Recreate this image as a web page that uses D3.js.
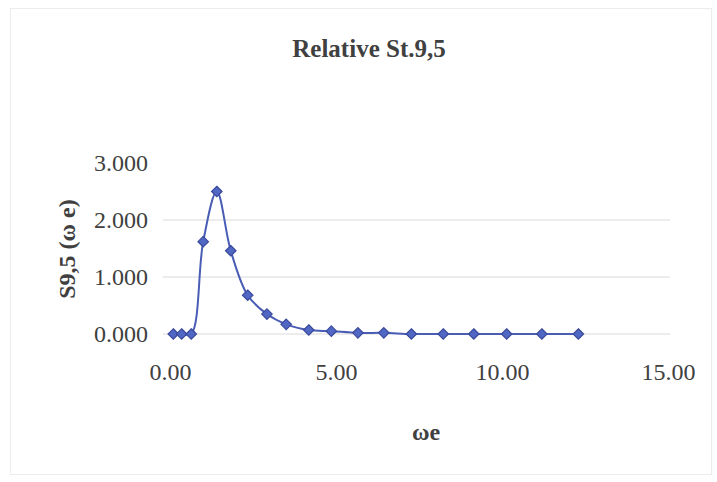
<!DOCTYPE html>
<html>
<head>
<meta charset="utf-8">
<script src="https://cdn.jsdelivr.net/npm/d3@7/dist/d3.min.js"></script>
<style>
  html, body { margin: 0; padding: 0; background: #ffffff; }
  svg { display: block; }
  text { font-family: "Liberation Serif", "Times New Roman", serif; fill: #404040; }
</style>
</head>
<body>
<svg id="chart" width="717" height="482"></svg>
<script>
// Relative spectrum S9,5 against encounter frequency ωe
const omegaE = [0.10, 0.35, 0.64, 1.00, 1.41, 1.83, 2.34, 2.92, 3.50, 4.18, 4.86, 5.66, 6.44, 7.27, 8.23, 9.15, 10.14, 11.20, 12.30];
const s95    = [0.00, 0.00, 0.00, 1.62, 2.50, 1.46, 0.68, 0.35, 0.17, 0.07, 0.05, 0.02, 0.02, 0.00, 0.00, 0.00, 0.00, 0.00, 0.00];

const xTicks = [0, 5, 10, 15];
const yTicks = [0, 1, 2, 3];
const gridValues = [0, 1, 2];

const titleText = "Relative St.9,5";
const xTitle = "ωe";
const yTitle = "S9,5 (ω e)";

const svg = d3.select("#chart");
const W = 717, H = 482;

// outer chart frame
svg.append("rect")
  .attr("x", 10.5).attr("y", 8.5)
  .attr("width", 701).attr("height", 466)
  .attr("fill", "#ffffff")
  .attr("stroke", "#ececec").attr("stroke-width", 1);

const plot = { left: 170, right: 668, top: 163, bottom: 334 };

const x = d3.scaleLinear().domain([0, 15]).range([plot.left, plot.right]);
const y = d3.scaleLinear().domain([0, 3]).range([plot.bottom, plot.top]);

// horizontal gridlines
svg.append("g")
  .selectAll("line")
  .data(gridValues)
  .join("line")
  .attr("x1", plot.left - 7).attr("x2", plot.right + 2)
  .attr("y1", d => y(d)).attr("y2", d => y(d))
  .attr("stroke", "#e6e6e6").attr("stroke-width", 1.5);

// y axis tick labels
const yAxis = d3.axisLeft(y).tickValues(yTicks).tickFormat(d3.format(".3f")).tickSize(0).tickPadding(0);
const gy = svg.append("g").attr("transform", `translate(${plot.left - 22},0)`).call(yAxis);
gy.select(".domain").remove();
gy.selectAll("text")
  .attr("font-family", "Liberation Serif, serif")
  .attr("font-size", 24)
  .attr("fill", "#404040");

// x axis tick labels
const xAxis = d3.axisBottom(x).tickValues(xTicks).tickFormat(d3.format(".2f")).tickSize(0).tickPadding(0);
const gx = svg.append("g").attr("transform", `translate(0,${plot.bottom + 29})`).call(xAxis);
gx.select(".domain").remove();
gx.selectAll("text")
  .attr("font-family", "Liberation Serif, serif")
  .attr("font-size", 24)
  .attr("fill", "#404040");

// smoothed series line
const pts = omegaE.map((v, i) => [v, s95[i]]);
const line = d3.line()
  .x(d => x(d[0]))
  .y(d => y(d[1]))
  .curve(d3.curveCatmullRom.alpha(0.5));

svg.append("path")
  .datum(pts)
  .attr("d", line)
  .attr("fill", "none")
  .attr("stroke", "#4a5db5")
  .attr("stroke-width", 2);

// diamond markers
const diamond = d3.symbol().type(d3.symbolDiamond2).size(70);
svg.append("g")
  .selectAll("path")
  .data(pts)
  .join("path")
  .attr("d", diamond)
  .attr("transform", d => `translate(${x(d[0])},${y(d[1])})`)
  .attr("fill", "#5167c4")
  .attr("stroke", "#3a4a9c")
  .attr("stroke-width", 1.2);

// chart title
svg.append("text")
  .attr("x", 369).attr("y", 57)
  .attr("text-anchor", "middle")
  .attr("font-size", 25)
  .attr("font-weight", "bold")
  .text(titleText);

// x axis title
svg.append("text")
  .attr("x", 426).attr("y", 440)
  .attr("text-anchor", "middle")
  .attr("font-size", 24)
  .attr("font-weight", "bold")
  .text(xTitle);

// y axis title
svg.append("text")
  .attr("transform", `translate(75,249) rotate(-90)`)
  .attr("text-anchor", "middle")
  .attr("font-size", 24)
  .attr("font-weight", "bold")
  .text(yTitle);
</script>
</body>
</html>
